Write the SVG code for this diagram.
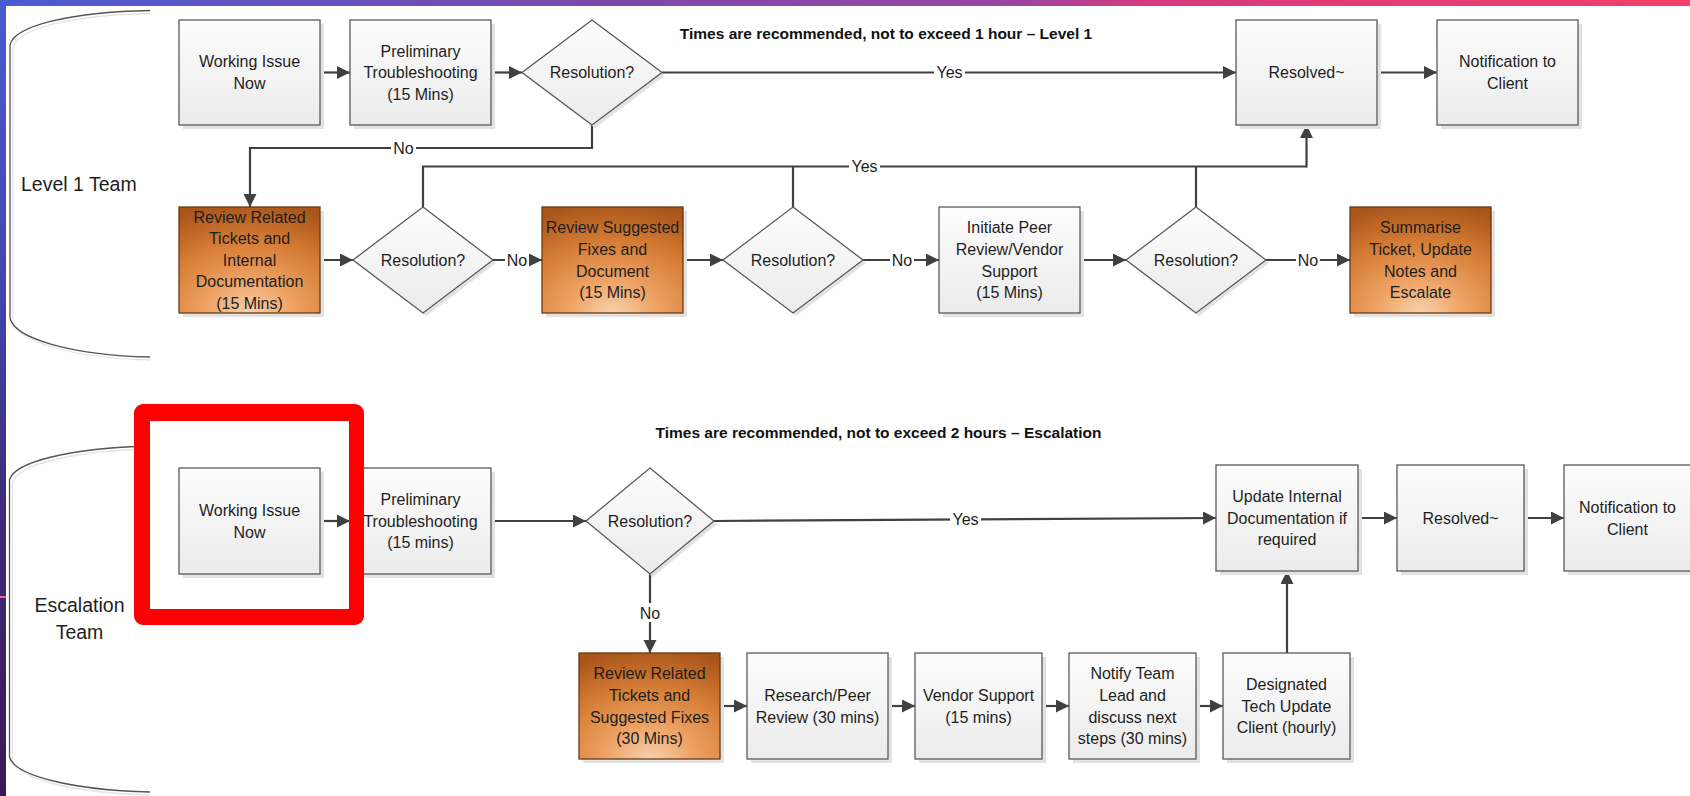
<svg xmlns="http://www.w3.org/2000/svg" width="1690" height="796" viewBox="0 0 1690 796">
<style>
.bx{fill:url(#gGray);stroke:#5a5a5a;stroke-width:1.3}
.ob{fill:url(#gOrange);stroke:#6b3a12;stroke-width:1.3}
.sh{fill:#e2e2e2}
.t{font-family:"Liberation Sans",Arial,sans-serif;font-size:16px;fill:#1e1e1e;text-anchor:middle}
.tt{font-family:"Liberation Sans",Arial,sans-serif;font-size:15.5px;font-weight:bold;fill:#111;text-anchor:middle}
.team{font-family:"Liberation Sans",Arial,sans-serif;font-size:19.5px;fill:#1e1e1e}
.c{fill:none;stroke:#404040;stroke-width:2.2}
.a{fill:none;stroke:#404040;stroke-width:2.2;marker-end:url(#arr)}
.lb{fill:#fff}
.br{fill:none;stroke:#555;stroke-width:1.3}
.brs{fill:none;stroke:#e4e4e4;stroke-width:1.3}
</style>
<defs>
<linearGradient id="gGray" x1="0" y1="0" x2="0" y2="1"><stop offset="0" stop-color="#fdfdfd"/><stop offset="1" stop-color="#ebebeb"/></linearGradient>
<radialGradient id="gOrange" cx="0.5" cy="1" r="1.05" fx="0.5" fy="1"><stop offset="0" stop-color="#f7d2ae"/><stop offset="0.3" stop-color="#eea264"/><stop offset="0.65" stop-color="#d47c34"/><stop offset="1" stop-color="#a8541a"/></radialGradient>
<linearGradient id="gTop" x1="0" y1="0" x2="1" y2="0"><stop offset="0" stop-color="#4a5ad2"/><stop offset="0.35" stop-color="#7a4aac"/><stop offset="0.6" stop-color="#9a45a2"/><stop offset="0.68" stop-color="#d83a7e"/><stop offset="1" stop-color="#f2406a"/></linearGradient>
<linearGradient id="gLeft" x1="0" y1="0" x2="0" y2="1"><stop offset="0" stop-color="#4a5ad2"/><stop offset="0.35" stop-color="#4446b0"/><stop offset="0.65" stop-color="#3d2a78"/><stop offset="1" stop-color="#3a1a55"/></linearGradient>
<marker id="arr" markerWidth="14" markerHeight="14" refX="13" refY="6.5" orient="auto" markerUnits="userSpaceOnUse"><path d="M0,0 L13,6.5 L0,13 Z" fill="#404040"/></marker>
</defs>

<rect x="0" y="0" width="1690" height="796" fill="#fff"/>
<rect x="0" y="0" width="1690" height="6" fill="url(#gTop)"/>
<rect x="0" y="0" width="6" height="796" fill="url(#gLeft)"/>
<rect x="0" y="596" width="6" height="2" fill="#e86a8a"/>

<g id="lane-level1">
<path class="brs" d="M150,13.5 C70,15 17,29 13,48 L13,321 C17,341 70,358 150,360"/>
<path class="br" d="M150,10.5 C70,12 14,26 10,45 L10,318 C14,338 70,355 150,357"/>
<text class="team" x="21" y="191">Level 1 Team</text>
<text class="tt" x="886" y="38.5">Times are recommended, not to exceed 1 hour – Level 1</text>
</g>

<g id="lane-escalation">
<path class="brs" d="M150,449 C70,451 17,465 12.5,483 L12.5,760 C17,778 70,793 150,795"/>
<path class="br" d="M150,446 C70,448 14,462 9.5,480 L9.5,757 C14,775 70,790 150,792"/>
<text class="team" x="79.5" y="612" text-anchor="middle">Escalation</text>
<text class="team" x="79.5" y="639" text-anchor="middle">Team</text>
<text class="tt" x="878.5" y="437.5">Times are recommended, not to exceed 2 hours – Escalation</text>
</g>

<g id="connectors">
<!-- Level 1 -->
<line class="a" x1="320" y1="72.5" x2="350" y2="72.5"/>
<line class="a" x1="491" y1="72.5" x2="522" y2="72.5"/>
<line class="a" x1="662" y1="72.5" x2="1236" y2="72.5"/>
<rect class="lb" x="934" y="63" width="31" height="18"/>
<text class="t" x="949.5" y="78.2">Yes</text>
<line class="a" x1="1377" y1="72.5" x2="1437" y2="72.5"/>
<polyline class="a" points="592,125 592,148 250,148 250,207"/>
<rect class="lb" x="391" y="139" width="25" height="18"/>
<text class="t" x="403.5" y="153.7">No</text>
<line class="a" x1="320" y1="260" x2="353" y2="260"/>
<line class="a" x1="493" y1="260" x2="542" y2="260"/>
<rect class="lb" x="505" y="251" width="24" height="18"/>
<text class="t" x="517" y="265.7">No</text>
<line class="a" x1="683" y1="260" x2="723" y2="260"/>
<line class="a" x1="863" y1="260" x2="939" y2="260"/>
<rect class="lb" x="890" y="251" width="24" height="18"/>
<text class="t" x="902" y="265.7">No</text>
<line class="a" x1="1080" y1="260" x2="1126" y2="260"/>
<line class="a" x1="1266" y1="260" x2="1350" y2="260"/>
<rect class="lb" x="1296" y="251" width="24" height="18"/>
<text class="t" x="1308" y="265.7">No</text>
<polyline class="c" points="423,207 423,166.5 1307,166.5"/>
<line class="c" x1="793" y1="207" x2="793" y2="166.5"/>
<line class="c" x1="1196" y1="207" x2="1196" y2="166.5"/>
<polyline class="a" points="1306,166.5 1306.5,166.5 1306.5,125"/>
<rect class="lb" x="849" y="157.5" width="31" height="18"/>
<text class="t" x="864.5" y="172.2">Yes</text>
<!-- Escalation -->
<line class="a" x1="320" y1="521" x2="350" y2="521"/>
<line class="a" x1="491" y1="521" x2="586" y2="521"/>
<line class="a" x1="714" y1="521" x2="1216" y2="518"/>
<rect class="lb" x="950" y="510.5" width="31" height="18"/>
<text class="t" x="965.5" y="525.2">Yes</text>
<line class="a" x1="1358" y1="518" x2="1397" y2="518"/>
<line class="a" x1="1524" y1="518" x2="1564" y2="518"/>
<line class="a" x1="650" y1="574" x2="650" y2="653"/>
<rect class="lb" x="637" y="603" width="26" height="19"/>
<text class="t" x="650" y="618.7">No</text>
<line class="a" x1="720" y1="706" x2="747" y2="706"/>
<line class="a" x1="888" y1="706" x2="915" y2="706"/>
<line class="a" x1="1042" y1="706" x2="1069" y2="706"/>
<line class="a" x1="1196" y1="706" x2="1223" y2="706"/>
<line class="a" x1="1287" y1="653" x2="1287" y2="571"/>
</g>

<!-- Level 1 nodes -->
<g id="l1-working">
<rect class="sh" x="183" y="24" width="141" height="105"/>
<rect class="bx" x="179" y="20" width="141" height="105"/>
<text class="t" x="249.5" y="67.4">Working Issue<tspan x="249.5" dy="21.6">Now</tspan></text>
</g>
<g id="l1-prelim">
<rect class="sh" x="354" y="24" width="141" height="105"/>
<rect class="bx" x="350" y="20" width="141" height="105"/>
<text class="t" x="420.5" y="56.6">Preliminary<tspan x="420.5" dy="21.6">Troubleshooting</tspan><tspan x="420.5" dy="21.6">(15 Mins)</tspan></text>
</g>
<g id="l1-dec1">
<polygon class="sh" points="595,23 665,75.5 595,128 525,75.5"/>
<polygon class="bx" points="592,20 662,72.5 592,125 522,72.5"/>
<text class="t" x="592" y="78.2">Resolution?</text>
</g>
<g id="l1-resolved">
<rect class="sh" x="1240" y="24" width="141" height="105"/>
<rect class="bx" x="1236" y="20" width="141" height="105"/>
<text class="t" x="1306.5" y="78.2">Resolved~</text>
</g>
<g id="l1-notify">
<rect class="sh" x="1441" y="24" width="141" height="105"/>
<rect class="bx" x="1437" y="20" width="141" height="105"/>
<text class="t" x="1507.5" y="67.4">Notification to<tspan x="1507.5" dy="21.6">Client</tspan></text>
</g>
<g id="l1-review">
<rect class="sh" x="183" y="211" width="141" height="106"/>
<rect class="ob" x="179" y="207" width="141" height="106"/>
<text class="t" x="249.5" y="222.5">Review Related<tspan x="249.5" dy="21.6">Tickets and</tspan><tspan x="249.5" dy="21.6">Internal</tspan><tspan x="249.5" dy="21.6">Documentation</tspan><tspan x="249.5" dy="21.6">(15 Mins)</tspan></text>
</g>
<g id="l1-dec2">
<polygon class="sh" points="426,210 496,263 426,316 356,263"/>
<polygon class="bx" points="423,207 493,260 423,313 353,260"/>
<text class="t" x="423" y="265.7">Resolution?</text>
</g>
<g id="l1-suggested">
<rect class="sh" x="546" y="211" width="141" height="106"/>
<rect class="ob" x="542" y="207" width="141" height="106"/>
<text class="t" x="612.5" y="233.3">Review Suggested<tspan x="612.5" dy="21.6">Fixes and</tspan><tspan x="612.5" dy="21.6">Document</tspan><tspan x="612.5" dy="21.6">(15 Mins)</tspan></text>
</g>
<g id="l1-dec3">
<polygon class="sh" points="796,210 866,263 796,316 726,263"/>
<polygon class="bx" points="793,207 863,260 793,313 723,260"/>
<text class="t" x="793" y="265.7">Resolution?</text>
</g>
<g id="l1-peer">
<rect class="sh" x="943" y="211" width="141" height="106"/>
<rect class="bx" x="939" y="207" width="141" height="106"/>
<text class="t" x="1009.5" y="233.3">Initiate Peer<tspan x="1009.5" dy="21.6">Review/Vendor</tspan><tspan x="1009.5" dy="21.6">Support</tspan><tspan x="1009.5" dy="21.6">(15 Mins)</tspan></text>
</g>
<g id="l1-dec4">
<polygon class="sh" points="1199,210 1269,263 1199,316 1129,263"/>
<polygon class="bx" points="1196,207 1266,260 1196,313 1126,260"/>
<text class="t" x="1196" y="265.7">Resolution?</text>
</g>
<g id="l1-summarise">
<rect class="sh" x="1354" y="211" width="141" height="106"/>
<rect class="ob" x="1350" y="207" width="141" height="106"/>
<text class="t" x="1420.5" y="233.3">Summarise<tspan x="1420.5" dy="21.6">Ticket, Update</tspan><tspan x="1420.5" dy="21.6">Notes and</tspan><tspan x="1420.5" dy="21.6">Escalate</tspan></text>
</g>

<!-- Escalation nodes -->
<g id="e-working">
<rect class="sh" x="183" y="472" width="141" height="106"/>
<rect class="bx" x="179" y="468" width="141" height="106"/>
<text class="t" x="249.5" y="515.9">Working Issue<tspan x="249.5" dy="21.6">Now</tspan></text>
</g>
<g id="e-prelim">
<rect class="sh" x="354" y="472" width="141" height="106"/>
<rect class="bx" x="350" y="468" width="141" height="106"/>
<text class="t" x="420.5" y="505.1">Preliminary<tspan x="420.5" dy="21.6">Troubleshooting</tspan><tspan x="420.5" dy="21.6">(15 mins)</tspan></text>
</g>
<g id="e-dec">
<polygon class="sh" points="653,471 717,524 653,577 589,524"/>
<polygon class="bx" points="650,468 714,521 650,574 586,521"/>
<text class="t" x="650" y="526.7">Resolution?</text>
</g>
<g id="e-update">
<rect class="sh" x="1220" y="469" width="142" height="106"/>
<rect class="bx" x="1216" y="465" width="142" height="106"/>
<text class="t" x="1287" y="502.1">Update Internal<tspan x="1287" dy="21.6">Documentation if</tspan><tspan x="1287" dy="21.6">required</tspan></text>
</g>
<g id="e-resolved">
<rect class="sh" x="1401" y="469" width="127" height="106"/>
<rect class="bx" x="1397" y="465" width="127" height="106"/>
<text class="t" x="1460.5" y="523.7">Resolved~</text>
</g>
<g id="e-notify">
<rect class="sh" x="1568" y="469" width="127" height="106"/>
<rect class="bx" x="1564" y="465" width="127" height="106"/>
<text class="t" x="1627.5" y="512.9">Notification to<tspan x="1627.5" dy="21.6">Client</tspan></text>
</g>
<g id="e-review">
<rect class="sh" x="583" y="657" width="141" height="106"/>
<rect class="ob" x="579" y="653" width="141" height="106"/>
<text class="t" x="649.5" y="679.3">Review Related<tspan x="649.5" dy="21.6">Tickets and</tspan><tspan x="649.5" dy="21.6">Suggested Fixes</tspan><tspan x="649.5" dy="21.6">(30 Mins)</tspan></text>
</g>
<g id="e-research">
<rect class="sh" x="751" y="657" width="141" height="106"/>
<rect class="bx" x="747" y="653" width="141" height="106"/>
<text class="t" x="817.5" y="700.9">Research/Peer<tspan x="817.5" dy="21.6">Review (30 mins)</tspan></text>
</g>
<g id="e-vendor">
<rect class="sh" x="919" y="657" width="127" height="106"/>
<rect class="bx" x="915" y="653" width="127" height="106"/>
<text class="t" x="978.5" y="700.9">Vendor Support<tspan x="978.5" dy="21.6">(15 mins)</tspan></text>
</g>
<g id="e-notifyteam">
<rect class="sh" x="1073" y="657" width="127" height="106"/>
<rect class="bx" x="1069" y="653" width="127" height="106"/>
<text class="t" x="1132.5" y="679.3">Notify Team<tspan x="1132.5" dy="21.6">Lead and</tspan><tspan x="1132.5" dy="21.6">discuss next</tspan><tspan x="1132.5" dy="21.6">steps (30 mins)</tspan></text>
</g>
<g id="e-designated">
<rect class="sh" x="1227" y="657" width="127" height="106"/>
<rect class="bx" x="1223" y="653" width="127" height="106"/>
<text class="t" x="1286.5" y="690.1">Designated<tspan x="1286.5" dy="21.6">Tech Update</tspan><tspan x="1286.5" dy="21.6">Client (hourly)</tspan></text>
</g>

<g id="highlight">
<path fill="#ff0000" fill-rule="evenodd" d="M143,404 H355 A9,9 0 0 1 364,413 V616 A9,9 0 0 1 355,625 H143 A9,9 0 0 1 134,616 V413 A9,9 0 0 1 143,404 Z M150,421 V609 H349 V421 Z"/>
</g>
</svg>
